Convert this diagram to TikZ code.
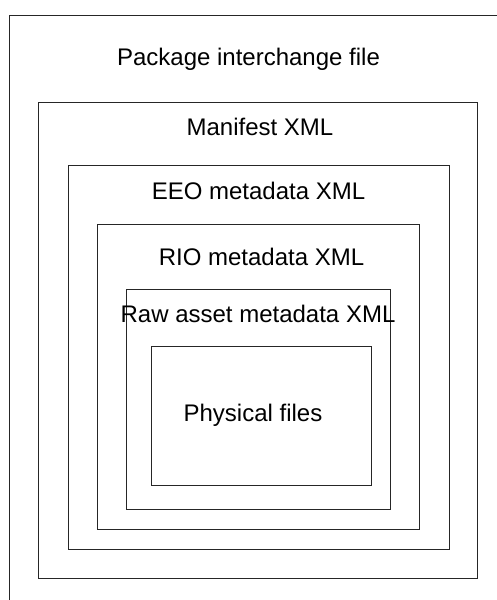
\documentclass[tikz,border=0pt]{standalone}
\usepackage{fontspec}
\setmainfont{Liberation Sans}
\begin{document}
\begin{tikzpicture}[x=1pt,y=-1pt,
  layer/.style={draw=black!85, line width=1pt},
  caption/.style={anchor=base, inner sep=0pt, font=\fontsize{24}{28}\selectfont}]
  \useasboundingbox (0,0) rectangle (497,600);
  \clip (0,0) rectangle (497,600);
  % nested containers, outermost first
  \draw[layer] (9,15) rectangle (520,620);
  \draw[layer] (38,102) rectangle (477,578);
  \draw[layer] (68,165) rectangle (449,549);
  \draw[layer] (97,224) rectangle (419,529);
  \draw[layer] (126,289) rectangle (390,509);
  \draw[layer] (151,346) rectangle (371,485);
  % labels
  \node[caption] (pkg) at (248.5,65) {Package interchange file};
  \node[caption] (man) at (260,135) {Manifest XML};
  \node[caption] (eeo) at (258.5,199) {EEO metadata XML};
  \node[caption] (rio) at (261.5,265) {RIO metadata XML};
  \node[caption] (raw) at (258,322) {Raw asset metadata XML};
  \node[caption] (phy) at (253,421) {Physical files};
\end{tikzpicture}
\end{document}
